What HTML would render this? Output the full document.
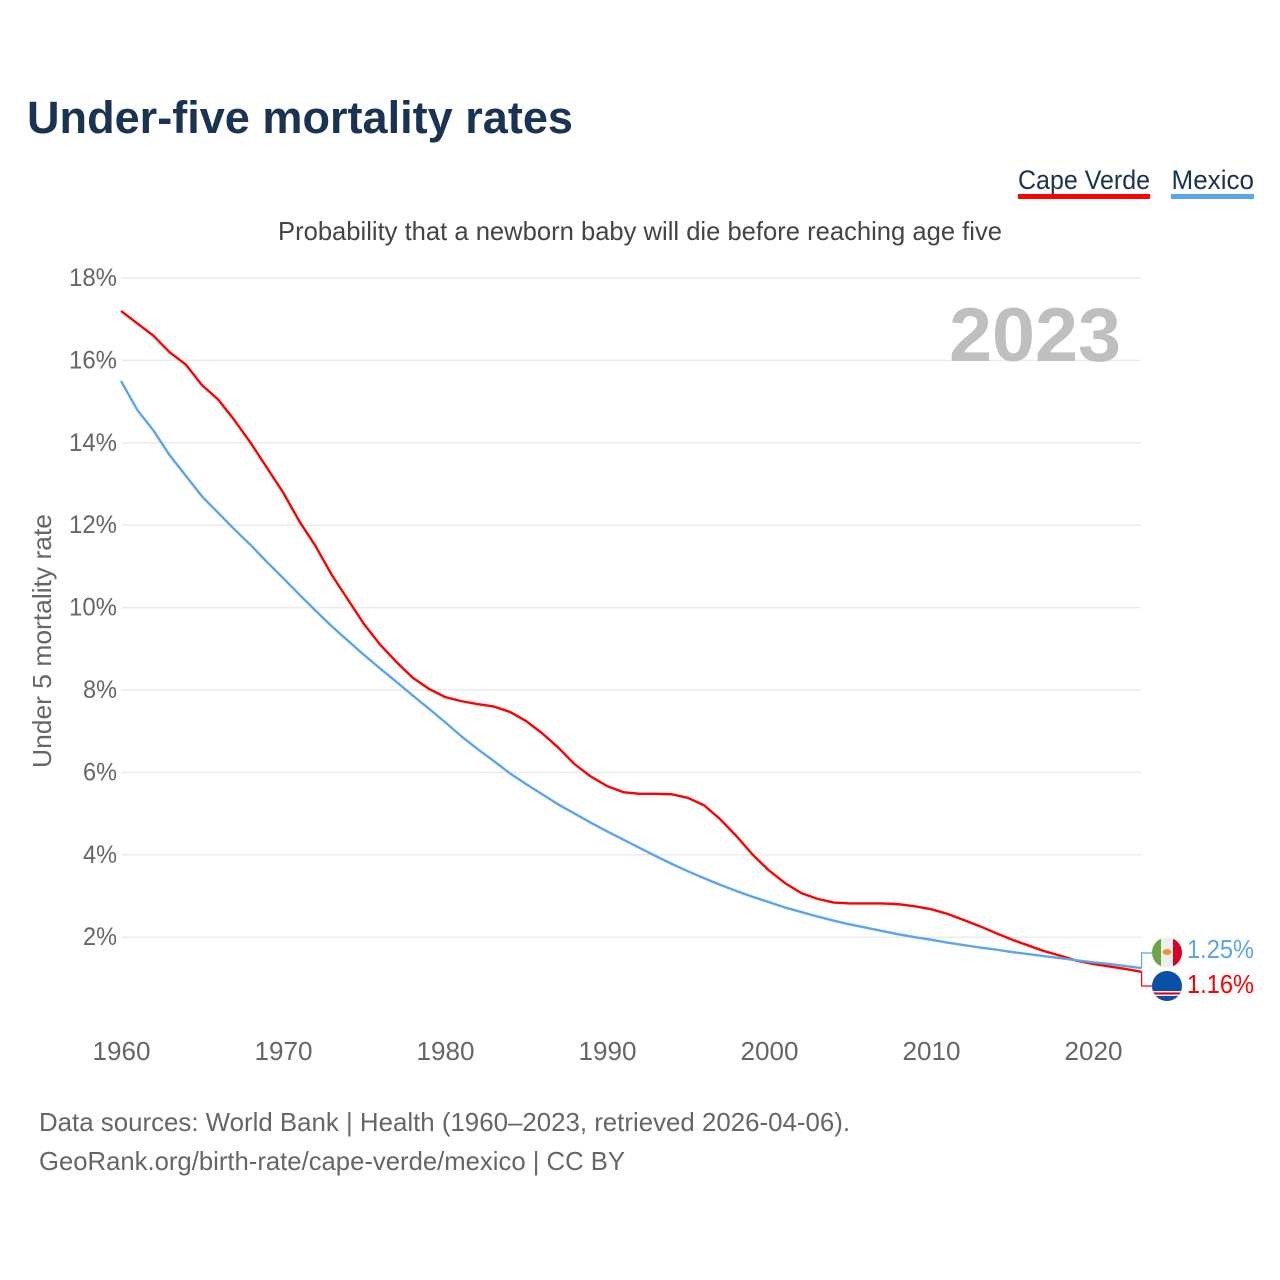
<!DOCTYPE html>
<html lang="en">
<head>
<meta charset="utf-8">
<title>Under-five mortality rates</title>
<style>
  html, body { margin: 0; padding: 0; background: #fff; }
  svg { display: block; }
  text { font-family: "Liberation Sans", sans-serif; }
</style>
</head>
<body>
<svg id="chart" width="1280" height="1280" viewBox="0 0 1280 1280" xmlns="http://www.w3.org/2000/svg">
  <defs>
    <clipPath id="clip-mx"><circle cx="1167" cy="952.5" r="15"/></clipPath>
    <clipPath id="clip-cv"><circle cx="1167" cy="986" r="15"/></clipPath>
  </defs>
  <rect width="1280" height="1280" fill="#ffffff"/>
  <text x="27" y="133" font-size="45" font-weight="700" fill="#1a3353" textLength="546" lengthAdjust="spacingAndGlyphs">Under-five mortality rates</text>

  <g>
    <text x="1018" y="189" font-size="27" fill="#1a3353" textLength="132" lengthAdjust="spacingAndGlyphs">Cape Verde</text>
    <rect x="1018" y="194" width="132" height="5" fill="#ff0000"/>
  </g>
  <g>
    <text x="1171.5" y="189" font-size="27" fill="#1a3353" textLength="82.5" lengthAdjust="spacingAndGlyphs">Mexico</text>
    <rect x="1171" y="194" width="83" height="5" fill="#5aa5ee"/>
  </g>

  <text x="278" y="240" font-size="26" fill="#444444" textLength="724" lengthAdjust="spacingAndGlyphs">Probability that a newborn baby will die before reaching age five</text>

  <g id="grid"></g>
  <g id="y-ticks"></g>
  <g id="x-ticks"></g>

  <text x="949" y="361" font-size="76" font-weight="700" fill="#bfbfbf" textLength="172" lengthAdjust="spacingAndGlyphs">2023</text>

  <text transform="translate(51,768) rotate(-90)" x="0" y="0" font-size="26" fill="#666666" textLength="254" lengthAdjust="spacingAndGlyphs">Under 5 mortality rate</text>

  <g id="series"></g>

  <g clip-path="url(#clip-mx)">
    <rect x="1152" y="937" width="30" height="31" fill="#eeeeee"/>
    <rect x="1152" y="937" width="9" height="31" fill="#6da544"/>
    <rect x="1173" y="937" width="9" height="31" fill="#d80027"/>
    <ellipse cx="1167" cy="952" rx="4.5" ry="3" fill="#e8963a"/>
  </g>
  <g clip-path="url(#clip-cv)">
    <rect x="1152" y="971" width="30" height="30" fill="#0a50a8"/>
    <rect x="1152" y="991" width="30" height="5" fill="#eeeeee"/>
    <rect x="1152" y="992.5" width="30" height="2" fill="#d80027"/>
  </g>

  <g id="end-labels"></g>

  <text x="39" y="1131" font-size="26" fill="#666666" textLength="811" lengthAdjust="spacingAndGlyphs">Data sources: World Bank | Health (1960–2023, retrieved 2026-04-06).</text>
  <text x="39" y="1170" font-size="26" fill="#666666" textLength="586" lengthAdjust="spacingAndGlyphs">GeoRank.org/birth-rate/cape-verde/mexico | CC BY</text>
</svg>

<script>
const startYear = 1960;
const yTickValues = [2, 4, 6, 8, 10, 12, 14, 16, 18];
const xTickYears = [1960, 1970, 1980, 1990, 2000, 2010, 2020];

const capeVerdeValues = [
  17.2, 16.9, 16.6, 16.2, 15.9, 15.4, 15.05, 14.55, 14.0, 13.4,
  12.8, 12.1, 11.5, 10.8, 10.2, 9.6, 9.1, 8.68, 8.3, 8.03,
  7.83, 7.73, 7.66, 7.6, 7.47, 7.25, 6.95, 6.6, 6.2, 5.9,
  5.67, 5.52, 5.48, 5.48, 5.47, 5.38, 5.2, 4.86, 4.45, 4.0,
  3.62, 3.31, 3.07, 2.93, 2.84, 2.82, 2.82, 2.82, 2.8, 2.75,
  2.68, 2.57, 2.42, 2.27, 2.1, 1.94, 1.8, 1.66, 1.55, 1.43,
  1.35, 1.29, 1.23, 1.16
];

const mexicoValues = [
  15.5, 14.8, 14.3, 13.7, 13.2, 12.7, 12.3, 11.9, 11.52, 11.11,
  10.72, 10.32, 9.93, 9.55, 9.2, 8.85, 8.52, 8.2, 7.87, 7.55,
  7.22, 6.88, 6.57, 6.28, 5.98, 5.72, 5.47, 5.22, 5.0, 4.78,
  4.57, 4.37, 4.17, 3.97, 3.78, 3.6, 3.43, 3.27, 3.12, 2.98,
  2.85, 2.72, 2.61, 2.5, 2.4, 2.31, 2.23, 2.15, 2.07, 2.0,
  1.94, 1.87, 1.81, 1.75, 1.7, 1.64, 1.59, 1.54, 1.49, 1.44,
  1.39, 1.35, 1.3, 1.25
];

const svgNs = 'http://www.w3.org/2000/svg';
const RED = '#ff0000';
const BLUE = '#5aa5ee';

function xScale(year) { return 121 + (year - 1960) * 16.2; }
function yScale(value) { return 278 + (18 - value) * 41.2; }

function make(tag, attrs, parent) {
  const el = document.createElementNS(svgNs, tag);
  for (const k in attrs) el.setAttribute(k, attrs[k]);
  parent.appendChild(el);
  return el;
}

const gridGroup = document.getElementById('grid');
const yTickGroup = document.getElementById('y-ticks');
yTickValues.forEach(function (v) {
  const line = make('line', { x1: 121.5, x2: 1141, y1: yScale(v), y2: yScale(v), stroke: '#ebebeb', 'stroke-width': 1.5 }, gridGroup);
  
  
  const label = make('text', { x: 117, y: yScale(v) + 8, 'text-anchor': 'end', 'font-size': 25, fill: '#666666', textLength: v >= 10 ? 48 : 34, lengthAdjust: 'spacingAndGlyphs' }, yTickGroup);
  
  
  label.textContent = v + '%';
});

const xTickGroup = document.getElementById('x-ticks');
xTickYears.forEach(function (yr) {
  const label = make('text', { x: xScale(yr) + 0.5, y: 1060, 'text-anchor': 'middle', 'font-size': 26, fill: '#666666', textLength: 58, lengthAdjust: 'spacingAndGlyphs' }, xTickGroup);
  
  
  label.textContent = yr;
});

function linePath(values) {
  return values.map(function (v, i) {
    return (i ? 'L' : 'M') + xScale(startYear + i).toFixed(2) + ' ' + yScale(v).toFixed(2);
  }).join(' ');
}

const seriesGroup = document.getElementById('series');

const capeVerdeLine = make('path', { d: linePath(capeVerdeValues), fill: 'none', stroke: RED, 'stroke-width': 2.4, 'stroke-linejoin': 'round' }, seriesGroup);



const mexicoLine = make('path', { d: linePath(mexicoValues), fill: 'none', stroke: BLUE, 'stroke-width': 2.4, 'stroke-linejoin': 'round' }, seriesGroup);



const lastX = xScale(startYear + capeVerdeValues.length - 1);
const lastMexico = mexicoValues[mexicoValues.length - 1];
const lastCapeVerde = capeVerdeValues[capeVerdeValues.length - 1];

const mexicoConnector = make('path', { d: 'M' + lastX + ' ' + yScale(lastMexico) + ' V953 H1152', fill: 'none', stroke: BLUE, 'stroke-width': 1.2 }, seriesGroup);



const capeVerdeConnector = make('path', { d: 'M' + lastX + ' ' + yScale(lastCapeVerde) + ' V986 H1152', fill: 'none', stroke: RED, 'stroke-width': 1.2 }, seriesGroup);



const endGroup = document.getElementById('end-labels');

const mexicoEnd = make('text', { x: 1187, y: 958, 'font-size': 26, fill: BLUE, textLength: 67, lengthAdjust: 'spacingAndGlyphs' }, endGroup);


mexicoEnd.textContent = lastMexico.toFixed(2) + '%';

const capeVerdeEnd = make('text', { x: 1187, y: 993, 'font-size': 26, fill: RED, textLength: 67, lengthAdjust: 'spacingAndGlyphs' }, endGroup);


capeVerdeEnd.textContent = lastCapeVerde.toFixed(2) + '%';
</script>
</body>
</html>
